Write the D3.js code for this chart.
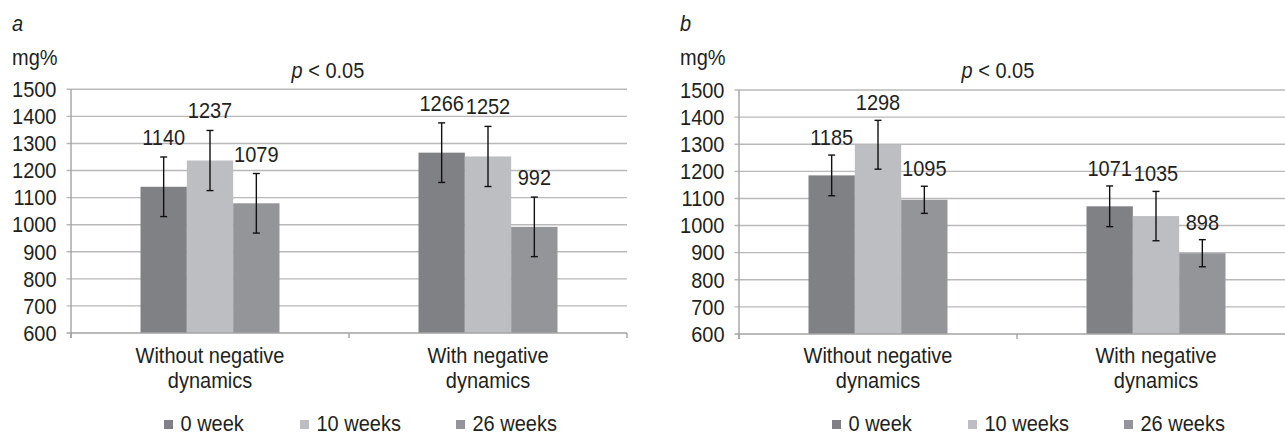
<!DOCTYPE html>
<html>
<head>
<meta charset="utf-8">
<script src="https://cdn.jsdelivr.net/npm/d3@7/dist/d3.min.js"></script>
<style>
  html, body { margin: 0; padding: 0; background: #fff; }
  svg text { font-family: "Liberation Sans", Arial, Helvetica, sans-serif; fill: #231f20; }
</style>
</head>
<body>
<svg id="chart" width="1285" height="434"></svg>
<script>
// ---- data ----
const categories = ["Without negative|dynamics", "With negative|dynamics"];
const seriesNames = ["0 week", "10 weeks", "26 weeks"];
const yTicks = [600, 700, 800, 900, 1000, 1100, 1200, 1300, 1400, 1500];
// panel a: values per category, in series order
const valuesA = [[1140, 1237, 1079], [1266, 1252, 992]];
const errorsA = [[110, 111, 110], [110, 111, 110]];
// panel b
const valuesB = [[1185, 1298, 1095], [1071, 1035, 898]];
const errorsB = [[75, 90, 50], [75, 91, 50]];
const panelLetters = ["a", "b"];
const unitLabel = "mg%";
const pLabel = "< 0.05";

// ---- style ----
const colors = ["#808185", "#bdbec1", "#949598"];
const gridColor = "#b9b9b9";
const axisColor = "#a3a3a3";
const FS = 21.5, SX = 0.93;

const svg = d3.select("#chart");

// condensed-looking text: taller glyphs, same widths
function addText(g, x, y, str, anchor, extra) {
  const t = g.append("text")
    .attr("transform", `translate(${x},${y}) scale(${SX},1)`)
    .attr("text-anchor", anchor || "start")
    .attr("font-size", FS);
  if (extra) extra(t);
  if (str !== null) t.text(str);
  return t;
}

function drawPanel(opts) {
  const { x0, letter, values, errors, labelGap, pX, yTop, yBottom } = opts;
  const plotW = 556;
  const g = svg.append("g");

  const y = d3.scaleLinear().domain([600, 1500]).range([yBottom, yTop]);
  const x = d3.scaleBand().domain(categories).range([x0, x0 + plotW])
    .paddingInner(0.5).paddingOuter(0.25);
  const xs = d3.scaleBand().domain(seriesNames).range([0, x.bandwidth()]).padding(0);

  // gridlines (extending left as tick marks)
  g.selectAll("line.grid").data(yTicks.filter(t => t !== 600)).join("line")
    .attr("x1", x0 - 4.5).attr("x2", x0 + plotW)
    .attr("y1", d => y(d)).attr("y2", d => y(d))
    .attr("stroke", gridColor).attr("stroke-width", 1.4);

  // y tick labels
  yTicks.forEach(t => {
    addText(g, x0 - 14.5, y(t), t, "end", s => s.attr("dominant-baseline", "central"));
  });

  // bars
  categories.forEach((c, ci) => {
    seriesNames.forEach((s, si) => {
      const v = values[ci][si];
      g.append("rect")
        .attr("x", x(c) + xs(s)).attr("width", xs.bandwidth())
        .attr("y", y(v)).attr("height", y(600) - y(v))
        .attr("fill", colors[si]);
    });
  });

  // x axis line + ticks
  g.append("line").attr("x1", x0 - 4.5).attr("x2", x0 + plotW)
    .attr("y1", y(600)).attr("y2", y(600)).attr("stroke", axisColor).attr("stroke-width", 1.4);
  g.append("line").attr("x1", x0).attr("x2", x0)
    .attr("y1", y(1500)).attr("y2", y(600) + 5).attr("stroke", axisColor).attr("stroke-width", 1.4);
  const step = x.step();
  [0, 1, 2].forEach(i => {
    g.append("line").attr("x1", x0 + i * step).attr("x2", x0 + i * step)
      .attr("y1", y(600)).attr("y2", y(600) + 5)
      .attr("stroke", axisColor).attr("stroke-width", 1.4);
  });

  // error bars and labels
  categories.forEach((c, ci) => {
    seriesNames.forEach((s, si) => {
      const v = values[ci][si], e = errors[ci][si];
      const cx = x(c) + xs(s) + xs.bandwidth() / 2;
      const cap = 3.5;
      g.append("line").attr("x1", cx).attr("x2", cx)
        .attr("y1", y(v + e)).attr("y2", y(v - e))
        .attr("stroke", "#111").attr("stroke-width", 1.4);
      [v + e, v - e].forEach(t => {
        g.append("line").attr("x1", cx - cap).attr("x2", cx + cap)
          .attr("y1", y(t)).attr("y2", y(t))
          .attr("stroke", "#111").attr("stroke-width", 1.4);
      });
      addText(g, cx, y(v + e) - labelGap, v, "middle");
    });
  });

  // category labels
  categories.forEach(c => {
    const cx = x(c) + x.bandwidth() / 2;
    c.split("|").forEach((ln, li) => {
      addText(g, cx, 363 + li * 25, ln, "middle");
    });
  });

  // panel letter, unit, p label
  addText(g, x0 - 59, 31, letter, "start", s => s.attr("font-style", "italic"));
  addText(g, x0 - 59, 65, unitLabel, "start");
  const pt = addText(g, pX, 78, null, "start");
  pt.append("tspan").attr("font-style", "italic").text("p");
  pt.append("tspan").text(" " + pLabel);

  // legend
  const legX = [x0 + 93, x0 + 229, x0 + 385];
  seriesNames.forEach((s, si) => {
    g.append("rect").attr("x", legX[si]).attr("y", 420).attr("width", 9).attr("height", 9)
      .attr("fill", colors[si]);
    addText(g, legX[si] + 16.5, 431, s, "start");
  });
}

drawPanel({ x0: 71, letter: panelLetters[0], values: valuesA, errors: errorsA, labelGap: 12, pX: 291.5, yTop: 89.3, yBottom: 333 });
drawPanel({ x0: 739, letter: panelLetters[1], values: valuesB, errors: errorsB, labelGap: 10, pX: 961.5, yTop: 90, yBottom: 334 });
</script>
</body>
</html>
